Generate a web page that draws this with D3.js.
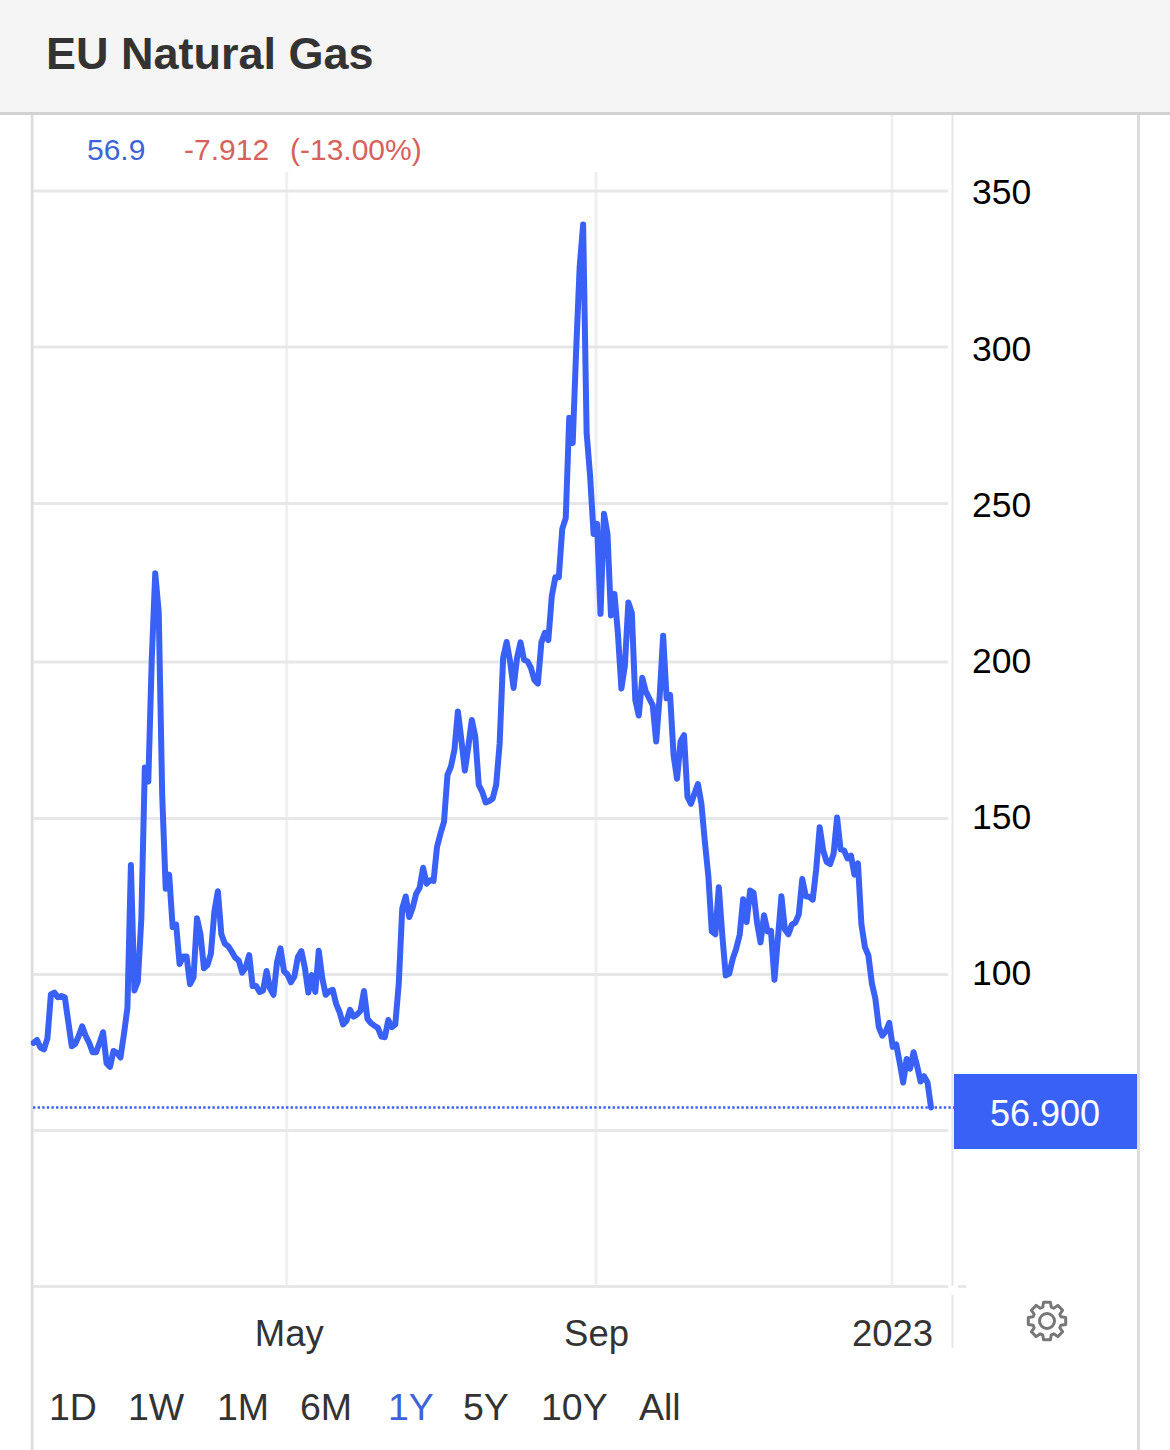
<!DOCTYPE html>
<html><head><meta charset="utf-8">
<script src="https://cdn.jsdelivr.net/npm/d3@7"></script>
<style>html,body{margin:0;padding:0;background:#fff;overflow:hidden}svg{display:block}text{font-family:"Liberation Sans",Arial,sans-serif}</style>
</head><body><svg id="c" width="1170" height="1450"></svg>
<script>
const title = "EU Natural Gas";
const prices = [78.1,79,76.6,76,79.5,93.6,94.2,92.7,93.1,92.7,84.8,77,77.8,80.3,83.4,80.3,78.1,75.1,75.1,78.1,
81.5,71.6,70.4,75.5,74.9,73.4,80.9,89.3,135.1,94.9,97.8,118,166.3,161.8,201,228,215.7,157.3,127.5,132,
115.2,116,103.4,105.8,105.8,96.9,99.1,118,112.9,102,103,106.7,120.2,126.7,112.9,109.9,109,107.3,105.4,104.5,
100.6,102.2,106.2,96.3,96.3,94.4,94.9,101.1,95.5,93.5,103.9,108.4,101.1,100,97.5,99.4,105.6,107.5,102.2,94.2,
99.8,94.4,107.6,98.9,93.5,94.6,95.1,90.6,87.9,84,85.2,88.7,86.5,87.2,88.4,94.7,85.8,84.4,83.6,82.9,
80.1,79.9,85.4,83.1,84,97,121.1,125,118.4,121.4,125.9,127.8,134.2,129.1,130.2,130,140.9,145.2,148.9,163.9,
166.6,171.9,184.2,175.1,165.3,173,181.5,176.2,160.7,158.5,155.1,155.6,156.4,160.7,174,201.3,206.3,200.2,191.7,201.3,
206.2,200.7,200.2,198.1,194.2,193.1,206.2,209.2,206.9,220.8,226.7,226.7,242,245.4,277.4,269.3,299.1,325.6,339.3,272.7,
258.9,240.4,243.6,215.2,246.8,240.4,214.7,221.5,209,191.5,198.9,218.8,215.5,187.8,182.9,195,190.6,188.4,186.2,174.6,
189,208.3,188.4,189.5,170.2,162.7,174.6,176.6,156.9,154.7,158,161,154.7,142.5,131.5,113.8,112.9,128,112.7,99.7,
100.3,105,108.3,112.7,124.1,116.8,126.9,126.2,116.6,110.3,119,113.8,114,98.3,111.6,125.1,114.4,112.9,116,116.6,
119.3,130.6,125.1,124.9,124,133.7,147.2,139.8,136.1,135.4,138.7,150.3,140.1,139.8,137.2,138.1,132,135.6,116,108.8,
106.1,97.2,92.3,83.1,80.4,81.8,84.5,76.8,77.6,71.8,65.4,72.9,69.8,75.1,70.7,65.7,67.4,65.4,57.4];
const yTicks = [0,50,100,150,200,250,300,350];
const yLabels = [100,150,200,250,300,350];
const xTickSessions = [72.8,161.7,246.8];
const xTickLabels = ["May","Sep","2023"];
const ranges = ["1D","1W","1M","6M","1Y","5Y","10Y","All"];
const rangeX = [49,128,217,300,388,463,541,639];
const quote = [{t:"56.9",x:87,c:"#3d63d9"},{t:"-7.912",x:184,c:"#d6625c"},{t:"(-13.00%)",x:290,c:"#d6625c"}];
const lastLabel = "56.900";

const blue = "#3a61f6";
const svg = d3.select("#c");
const x = d3.scaleLinear().domain([0, prices.length-1]).range([33.5, 931]);
const y = d3.scaleLinear().domain(yTicks).range([1286.5,1130.5,974.5,818.5,662,503.5,347,191]);
const yLabelScale = d3.scaleLinear().domain([100,350]).range([972,191.5]);

// frame
svg.append("rect").attr("x",30.5).attr("y",112).attr("width",3).attr("height",1338).attr("fill","#dcdcdc");
svg.append("rect").attr("x",1137).attr("y",112).attr("width",3).attr("height",1338).attr("fill","#dcdcdc");

// grid
const vTop = [172,172,115];
svg.append("g").selectAll("line").data(xTickSessions).join("line")
  .attr("x1",d=>x(d)).attr("x2",d=>x(d)).attr("y1",(d,i)=>vTop[i]).attr("y2",1285)
  .attr("stroke","#eef0f3").attr("stroke-width",3);
svg.append("g").selectAll("line").data(yTicks).join("line")
  .attr("x1",33).attr("x2",948).attr("y1",d=>y(d)).attr("y2",d=>y(d))
  .attr("stroke","#e7e7e7").attr("stroke-width",3);
svg.append("line").attr("x1",958).attr("x2",966).attr("y1",y(0)).attr("y2",y(0)).attr("stroke","#e7e7e7").attr("stroke-width",3);
svg.append("line").attr("x1",952.5).attr("x2",952.5).attr("y1",115).attr("y2",1286).attr("stroke","#e7e7e7").attr("stroke-width",2);
svg.append("line").attr("x1",952.5).attr("x2",952.5).attr("y1",1295).attr("y2",1348).attr("stroke","#e7e7e7").attr("stroke-width",2);

// y axis
const yAxis = svg.append("g").attr("transform","translate(972,0)")
  .call(d3.axisRight(yLabelScale).tickValues(yLabels).tickSize(0).tickPadding(0).tickFormat(d3.format("d")));
yAxis.select(".domain").remove();
yAxis.selectAll("text").attr("fill","#000").style("font-size","35.5px").style("font-family",'"Liberation Sans",Arial,sans-serif').attr("dy","0.35em");

// x axis
const xAxis = svg.append("g").attr("transform","translate(0,1321.5)")
  .call(d3.axisBottom(x).tickValues(xTickSessions).tickSize(0).tickPadding(0).tickFormat((d,i)=>xTickLabels[i]));
xAxis.select(".domain").remove();
xAxis.selectAll("text").attr("fill","#333").style("font-size","36.5px").style("font-family",'"Liberation Sans",Arial,sans-serif').attr("y",0).attr("dy","0.66em");
xAxis.selectAll("g.tick").filter((d,i)=>i===0).select("text").attr("x",2);

// dotted last price
const lastY = y(prices[prices.length-1]);
svg.append("line").attr("x1",33).attr("x2",954).attr("y1",lastY).attr("y2",lastY)
  .attr("stroke",blue).attr("stroke-width",2.5).attr("stroke-dasharray","2.4 2.2");

// series
const line = d3.line().x((d,i)=>x(i)).y(d=>y(d));
svg.append("path").datum(prices).attr("d",line).attr("fill","none").attr("stroke",blue)
  .attr("stroke-width",6).attr("stroke-linejoin","round").attr("stroke-linecap","round");

// last label
svg.append("rect").attr("x",954).attr("y",1074).attr("width",183).attr("height",75).attr("fill",blue);
svg.append("text").attr("x",1045).attr("y",1126).attr("text-anchor","middle").attr("fill","#fff").style("font-size","36px").text(lastLabel);

// quote
svg.selectAll(".q").data(quote).join("text").attr("class","q").attr("x",d=>d.x).attr("y",160).attr("fill",d=>d.c).style("font-size","30px").text(d=>d.t);

// left-edge mask so the line starts inside the frame
svg.append("rect").attr("x",0).attr("y",115).attr("width",30.5).attr("height",1335).attr("fill","#fff");

// header
svg.append("rect").attr("width",1170).attr("height",112).attr("fill","#f5f5f5");
svg.append("rect").attr("y",112).attr("width",1170).attr("height",3).attr("fill","#d2d2d2");
svg.append("text").attr("x",46).attr("y",69).attr("fill","#333").style("font-size","45px").style("font-weight","700").text(title);

// range buttons
svg.selectAll(".r").data(ranges).join("text").attr("class","r").attr("x",(d,i)=>rangeX[i]).attr("y",1420)
  .attr("fill",d=>d==="1Y"?"#3d63d9":"#333").style("font-size","37.5px").text(d=>d);

// gear
const cx=1047, cy=1321, teeth=8;
const pts=[];
for(let i=0;i<teeth;i++){
  const a=i/teeth*2*Math.PI-Math.PI/2, w=0.2;
  [[a-w*1.5,14.5],[a-w*0.9,19],[a+w*0.9,19],[a+w*1.5,14.5]].forEach(p=>pts.push([cx+p[1]*Math.cos(p[0]),cy+p[1]*Math.sin(p[0])]));
}
svg.append("path").attr("d",d3.line().curve(d3.curveLinearClosed)(pts)).attr("fill","none").attr("stroke","#777").attr("stroke-width",3).attr("stroke-linejoin","round");
svg.append("circle").attr("cx",cx).attr("cy",cy).attr("r",7.5).attr("fill","none").attr("stroke","#777").attr("stroke-width",3);
</script></body></html>
